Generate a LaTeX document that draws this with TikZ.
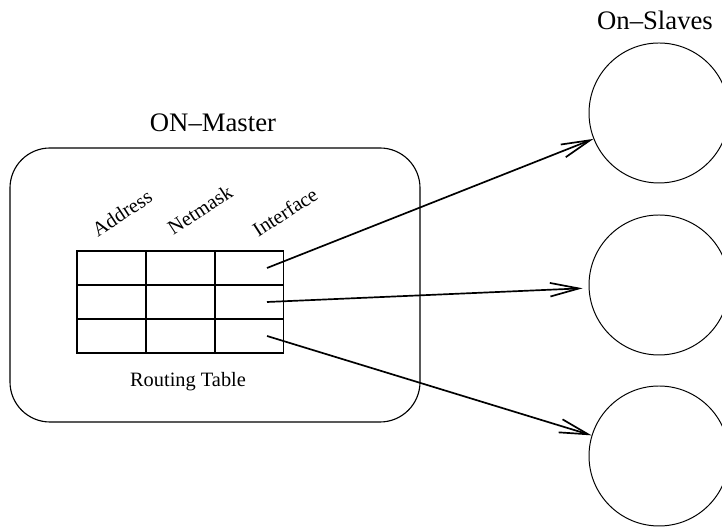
\documentclass[tikz,border=0pt]{standalone}
\usepackage{fontspec}
\setmainfont{Liberation Serif}
\usetikzlibrary{%
  arrows.meta,%
  shapes,%
  positioning,% wg. " of "
  calc
}

\begin{document}
\begin{tikzpicture}
[draw=black, line width=0.75pt,
hostbox/.style={rectangle,draw=black,rounded corners=1cm,minimum width=10.25cm,minimum height=6.85cm,line width=0.8pt},
cell/.style={rectangle,draw=black,inner sep=0pt,minimum width=1.725cm,minimum height=0.85cm,line width=1.05pt},
slave/.style={circle,draw=black,inner sep=0pt,minimum size=3.5cm,line width=0.7pt},
colhead/.style={rotate=33,inner sep=0pt,font=\fontsize{14.5}{17}\selectfont},
bigtitle/.style={font=\fontsize{19}{22}\selectfont},
route/.style={-{Straight Barb[length=0.72cm,width=0.34cm]},line width=1.2pt}
]

\useasboundingbox (0,0) rectangle (18.05,13.175);

\def \slavex {16.475}

% Master host with its routing table
\node[hostbox] (master) at (5.375,6.05) {};
\node[bigtitle] (mastername) at (5.325,10.1) {ON--Master};

\foreach \c/\x in {1/2.79, 2/4.51, 3/6.225} {
  \foreach \r/\y in {1/6.475, 2/5.625, 3/4.775} {
    \node[cell] (cell\r\c) at (\x,\y) {};
  }
}

\node[colhead] (haddr) at (3.05,7.85) {Address};
\node[colhead] (hmask) at (5.0,7.925) {Netmask};
\node[colhead] (hif) at (7.125,7.875) {Interface};

\node[font=\fontsize{14.5}{17}\selectfont] (rtlabel) at (4.7,3.625) {Routing Table};

% Slaves
\node[bigtitle] (slavename) at (16.375,12.675) {On--Slaves};

\foreach \r/\y/\gap in {1/10.35/0, 2/6.05/0.15, 3/1.775/0} {
  \node[slave] (slave\r) at (\slavex,\y) {};
  \coordinate (out\r) at ([xshift=0.45cm]cell\r3.center);
  \draw[route,shorten >=\gap cm] (out\r) -- (slave\r);
}
\end{tikzpicture}
\end{document}
